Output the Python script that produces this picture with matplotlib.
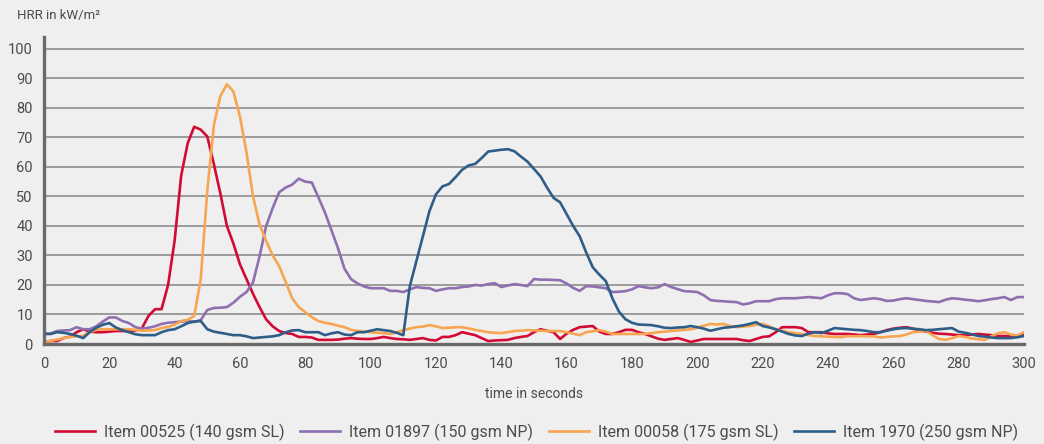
import numpy as np
import matplotlib.pyplot as plt

plt.rcParams['font.family'] = ['Roboto', 'DejaVu Sans']

# time axis, one reading every 2 s
time_s = np.arange(0, 301, 2)

# HRR readings (kW/m2), 10 values per row = 20 s
item_00525 = [0.8, 1.0, 1.0, 2.0, 2.5, 4.0, 5.0, 4.2, 4.0, 4.0,
              4.2, 4.4, 4.4, 4.4, 4.6, 5.4, 9.5, 11.8, 11.8, 20.0,
              35.0, 57.0, 68.0, 73.6, 72.6, 70.3, 61.0, 51.0, 40.0, 34.0,
              27.0, 22.0, 17.0, 12.5, 8.4, 6.0, 4.4, 3.7, 3.4, 2.4,
              2.4, 2.2, 1.4, 1.4, 1.4, 1.5, 1.8, 2.0, 1.8, 1.7,
              1.7, 2.0, 2.4, 2.0, 1.7, 1.6, 1.4, 1.7, 2.0, 1.4,
              1.2, 2.4, 2.4, 3.0, 4.0, 3.5, 3.0, 2.0, 1.0, 1.2,
              1.3, 1.4, 2.0, 2.4, 2.7, 4.0, 5.0, 4.5, 4.0, 1.7,
              3.5, 4.8, 5.7, 5.9, 6.1, 4.2, 3.4, 3.4, 4.0, 4.8,
              4.8, 4.0, 3.4, 2.6, 1.8, 1.4, 1.7, 2.0, 1.4, 0.7,
              1.2, 1.7, 1.7, 1.7, 1.7, 1.7, 1.7, 1.3, 1.0, 1.7,
              2.4, 2.6, 4.0, 5.7, 5.7, 5.7, 5.4, 4.0, 4.0, 4.0,
              3.6, 3.4, 3.4, 3.4, 3.2, 3.0, 3.2, 3.4, 4.0, 4.7,
              5.2, 5.5, 5.7, 5.2, 4.6, 4.2, 3.8, 3.5, 3.4, 3.2,
              3.0, 3.0, 3.2, 3.4, 3.2, 3.0, 2.7, 2.7, 2.7, 2.7,
              3.4]

item_01897 = [3.5, 3.5, 4.4, 4.6, 4.7, 5.7, 5.0, 5.0, 6.0, 7.6,
              9.0, 9.0, 7.8, 7.1, 5.7, 5.2, 5.5, 6.0, 6.8, 7.2,
              7.4, 7.6, 7.8, 7.5, 8.1, 11.5, 12.2, 12.3, 12.5, 14.0,
              16.0, 17.6, 20.9, 29.7, 39.9, 46.0, 51.4, 53.0, 54.0, 56.0,
              55.0, 54.7, 49.7, 44.6, 38.5, 32.5, 25.5, 22.0, 20.5, 19.5,
              18.9, 18.9, 18.9, 18.0, 18.0, 17.6, 18.5, 19.3, 19.0, 18.9,
              18.0, 18.5, 18.9, 18.9, 19.3, 19.5, 20.0, 19.8, 20.3, 20.6,
              19.3, 19.8, 20.3, 20.0, 19.6, 22.0, 21.8, 21.8, 21.7, 21.6,
              20.5, 19.0, 18.0, 19.6, 19.5, 19.2, 18.9, 17.6, 17.7, 17.9,
              18.5, 19.6, 19.2, 18.9, 19.2, 20.3, 19.3, 18.6, 17.9, 17.8,
              17.6, 16.5, 14.9, 14.6, 14.5, 14.3, 14.2, 13.4, 13.8, 14.5,
              14.5, 14.5, 15.2, 15.5, 15.5, 15.5, 15.7, 15.9, 15.7, 15.5,
              16.5, 17.2, 17.2, 16.9, 15.5, 14.9, 15.2, 15.5, 15.2, 14.6,
              14.7, 15.2, 15.5, 15.2, 14.9, 14.6, 14.4, 14.2, 15.0, 15.5,
              15.3, 15.0, 14.8, 14.5, 14.8, 15.2, 15.5, 15.9, 14.9, 15.9,
              15.9]

item_00058 = [0.7, 1.0, 1.5, 2.0, 2.4, 2.6, 2.8, 4.0, 4.8, 5.0,
              5.0, 5.0, 5.0, 5.0, 4.8, 4.5, 4.6, 4.7, 5.4, 5.8,
              6.5, 7.8, 8.2, 9.5, 22.0, 52.0, 74.0, 84.0, 88.0, 85.5,
              77.0, 65.0, 50.0, 40.5, 35.0, 30.0, 26.4, 21.0, 15.5, 12.5,
              10.8, 9.1, 7.8, 7.2, 6.8, 6.2, 5.7, 4.8, 4.4, 4.2,
              4.0, 3.8, 3.7, 3.4, 4.0, 4.7, 5.2, 5.7, 5.9, 6.4,
              6.0, 5.4, 5.5, 5.7, 5.7, 5.3, 4.8, 4.4, 4.0, 3.8,
              3.7, 4.0, 4.4, 4.5, 4.7, 4.6, 4.5, 4.4, 4.4, 4.4,
              4.0, 3.5, 3.0, 4.0, 4.3, 4.7, 4.2, 3.4, 3.4, 3.4,
              3.4, 3.4, 3.4, 3.7, 4.0, 4.2, 4.4, 4.6, 4.8, 5.0,
              5.5, 6.2, 6.8, 6.6, 6.8, 6.1, 5.7, 5.9, 6.1, 6.5,
              6.8, 6.0, 5.0, 4.5, 4.0, 3.7, 3.4, 3.0, 2.7, 2.6,
              2.5, 2.4, 2.3, 2.7, 2.6, 2.7, 2.6, 2.6, 2.2, 2.4,
              2.6, 2.7, 3.2, 4.0, 4.2, 4.4, 3.0, 1.7, 1.4, 2.0,
              2.7, 2.4, 1.9, 1.6, 1.4, 2.6, 3.6, 4.0, 3.2, 2.9,
              4.0]

item_1970 = [3.4, 3.4, 4.0, 3.8, 3.4, 2.8, 2.0, 4.0, 5.5, 6.5,
             7.1, 5.6, 4.7, 4.0, 3.3, 3.0, 3.0, 3.0, 4.0, 4.7,
             5.0, 6.0, 7.1, 7.6, 7.8, 5.0, 4.2, 3.8, 3.4, 3.0,
             3.0, 2.6, 2.0, 2.2, 2.4, 2.6, 3.0, 4.0, 4.6, 4.7,
             4.0, 4.0, 4.0, 3.0, 3.6, 4.0, 3.2, 3.0, 4.0, 4.0,
             4.5, 5.0, 4.7, 4.4, 3.8, 3.0, 19.6, 28.0, 36.5, 45.0,
             50.7, 53.4, 54.2, 56.5, 59.0, 60.5, 61.0, 63.0, 65.2, 65.5,
             65.8, 66.0, 65.3, 63.5, 61.8, 59.3, 56.8, 53.0, 49.5, 48.0,
             44.0, 40.0, 36.5, 31.0, 26.0, 23.5, 21.3, 15.5, 11.0, 8.4,
             7.2, 6.6, 6.5, 6.4, 6.0, 5.5, 5.4, 5.6, 5.7, 6.1,
             5.7, 5.2, 4.5, 5.0, 5.5, 5.7, 6.0, 6.3, 6.8, 7.4,
             6.1, 5.6, 5.0, 4.2, 3.4, 2.9, 2.7, 3.5, 4.0, 3.7,
             4.5, 5.4, 5.2, 5.0, 4.8, 4.7, 4.4, 4.0, 4.0, 4.5,
             5.0, 5.3, 5.4, 5.2, 5.0, 4.7, 4.8, 5.0, 5.2, 5.4,
             4.2, 3.8, 3.3, 2.7, 2.5, 2.2, 2.0, 2.0, 2.0, 2.3,
             2.7]

labels = ['Item 00525 (140 gsm SL)', 'Item 01897 (150 gsm NP)',
          'Item 00058 (175 gsm SL)', 'Item 1970 (250 gsm NP)']
colors = ['#d20a35', '#8e6fb0', '#f7a550', '#2e5d88']
series = [item_00525, item_01897, item_00058, item_1970]

bg = '#efefef'
fig = plt.figure(figsize=(10.44, 4.44), dpi=100, facecolor=bg)
ax = fig.add_axes([0.0421, 0.2252, 0.9387, 0.6915])
ax.set_facecolor(bg)

for vals, lab, col in zip(series, labels, colors):
    ax.plot(time_s, vals, color=col, lw=1.9, label=lab, solid_joinstyle='round')

ax.set_xlim(0, 300)
ax.set_ylim(0, 104)
ax.set_xticks(np.arange(0, 301, 20))
ax.set_yticks(np.arange(0, 101, 10))

# horizontal grid only
ax.yaxis.grid(True, color='#858585', lw=1.1)
ax.set_axisbelow(True)

for s in ['top', 'right']:
    ax.spines[s].set_visible(False)
for s in ['left', 'bottom']:
    ax.spines[s].set_color('#6a6a6a')
    ax.spines[s].set_linewidth(2.4)

ax.tick_params(length=0, labelsize=10.5, labelcolor='#4c4c4c')
ax.tick_params(axis='y', pad=8)
ax.tick_params(axis='x', pad=9)

ax.set_xlabel('time in seconds', fontsize=10, color='#4c4c4c', labelpad=12)
fig.text(0.016, 0.965, 'HRR in kW/m²', fontsize=9.5, color='#4c4c4c',
         ha='left', va='center')

fig.legend(loc='center', bbox_to_anchor=(0.514, 0.027), ncol=4, frameon=False,
           fontsize=11.5, labelcolor='#4c4c4c', handlelength=2.5,
           handletextpad=0.6, columnspacing=0.95)

plt.savefig('out.png', dpi=100, facecolor=bg)
